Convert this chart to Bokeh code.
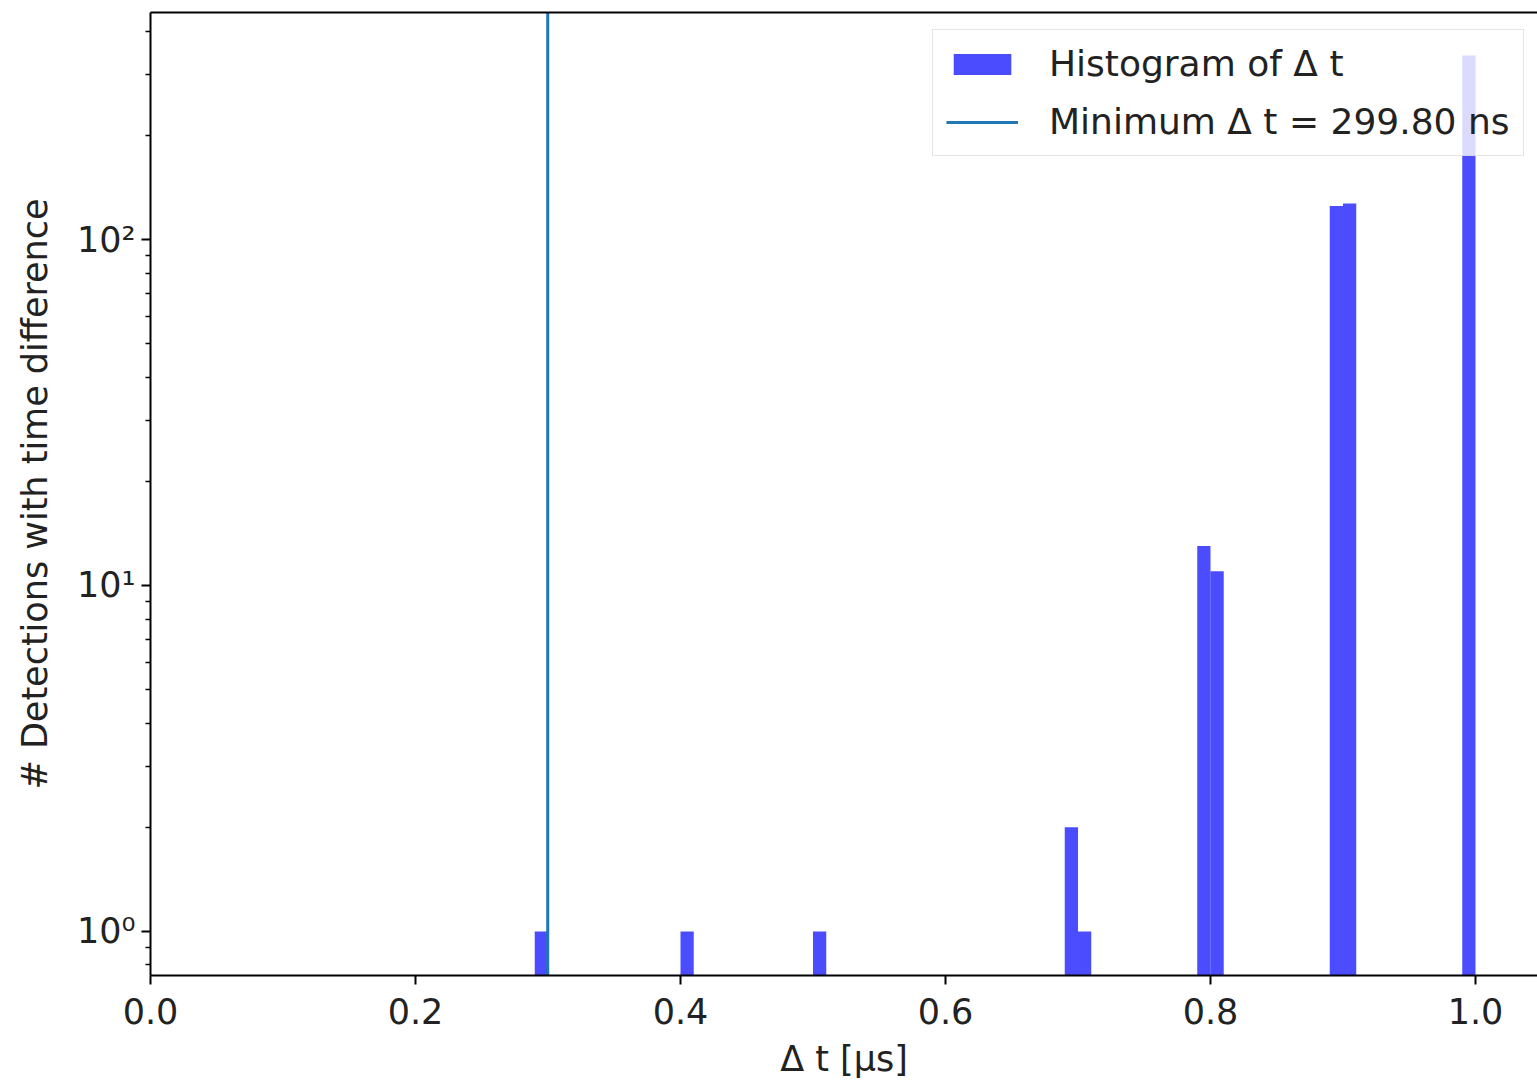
from bokeh.plotting import figure
from bokeh.models import (Range1d, FixedTicker, CustomJSTickFormatter, LinearAxis,
                          Legend, LegendItem, ColumnDataSource)
from bokeh.embed import file_html
from bokeh.resources import INLINE

# ---- data ----
bin_left = [0.29, 0.40, 0.50, 0.69, 0.70, 0.79, 0.80, 0.89, 0.90, 0.99]   # µs
counts = [1, 1, 1, 2, 1, 13, 11, 125, 127, 340]
bin_width = 0.01                                                          # µs
min_dt_ns = 299.80
x_ticks = [0.0, 0.2, 0.4, 0.6, 0.8, 1.0]
y_major = [1, 10, 100]
y_tick_labels = ["10\u2070", "10\u00b9", "10\u00b2"]
x_label = "\u0394 t [\u03bcs]"
y_label = "# Detections with time difference"
hist_label = "Histogram of \u0394 t"
min_label = "Minimum \u0394 t = %.2f ns" % min_dt_ns

FONT = "DejaVu Sans"
FS = "35px"

x_lo, x_hi = 0.0, 1.0468
y_lo, y_hi = 0.746, 453.0

p = figure(width=1537, height=1083, y_axis_type="log",
           x_range=Range1d(x_lo, x_hi), y_range=Range1d(y_lo, y_hi),
           output_backend="svg", toolbar_location=None,
           min_border_left=150, min_border_right=0, min_border_top=12,
           min_border_bottom=108)
p.outline_line_color = None
p.grid.visible = False
p.background_fill_color = "white"
p.border_fill_color = "white"

src = ColumnDataSource(dict(
    left=bin_left,
    right=[b + bin_width for b in bin_left],
    top=counts,
    bottom=[0.01] * len(counts),
))
bars = p.quad(left="left", right="right", top="top", bottom="bottom", source=src,
              fill_color="blue", fill_alpha=0.7, line_color=None)

x_min_us = min_dt_ns / 1000.0
vline = p.segment(x0=[x_min_us], x1=[x_min_us], y0=[y_lo], y1=[y_hi],
                  line_color="#1f77b4", line_width=3)

# x axis
xa = p.xaxis[0]
xa.ticker = FixedTicker(ticks=x_ticks, minor_ticks=[])
xa.formatter = CustomJSTickFormatter(code="return tick.toFixed(1);")
xa.axis_label = x_label

# y axis
ya = p.yaxis[0]
minor = [m * 10.0 ** k for k in (-1, 0, 1, 2) for m in range(2, 10)]
ya.ticker = FixedTicker(ticks=y_major, minor_ticks=minor)
ya.formatter = CustomJSTickFormatter(args=dict(labels=y_tick_labels),
                                     code="return labels[Math.round(Math.log10(tick))];")
ya.axis_label = y_label

for ax in (xa, ya):
    ax.axis_line_width = 2
    ax.axis_line_color = "black"
    ax.major_tick_line_width = 2
    ax.minor_tick_line_width = 1.5
    ax.major_tick_out = 9
    ax.major_tick_in = 0
    ax.minor_tick_out = 5
    ax.minor_tick_in = 0
    ax.major_label_text_font = FONT
    ax.major_label_text_font_size = FS
    ax.major_label_text_color = "#222222"
    ax.axis_label_text_font = FONT
    ax.axis_label_text_font_size = FS
    ax.axis_label_text_font_style = "normal"
    ax.axis_label_text_color = "#222222"

xa.major_label_standoff = 13
xa.axis_label_standoff = 12
ya.major_label_standoff = 6
ya.axis_label_standoff = 19

# top spine
top = LinearAxis(ticker=FixedTicker(ticks=[]), major_label_text_font_size="0px",
                 axis_line_width=2, axis_line_color="black",
                 major_tick_out=0, minor_tick_out=0)
p.add_layout(top, "above")

legend = Legend(items=[LegendItem(label=hist_label, renderers=[bars]),
                       LegendItem(label=min_label, renderers=[vline])],
                location=(782, 819),
                label_text_font=FONT, label_text_font_size="36px",
                label_text_color="#222222",
                glyph_width=72, glyph_height=26, label_standoff=31,
                spacing=17, padding=13, margin=0,
                border_line_color="#cccccc", border_line_width=1.5,
                background_fill_color="white", background_fill_alpha=0.8)
p.add_layout(legend)

open("out.html", "w").write(file_html(p, INLINE))
